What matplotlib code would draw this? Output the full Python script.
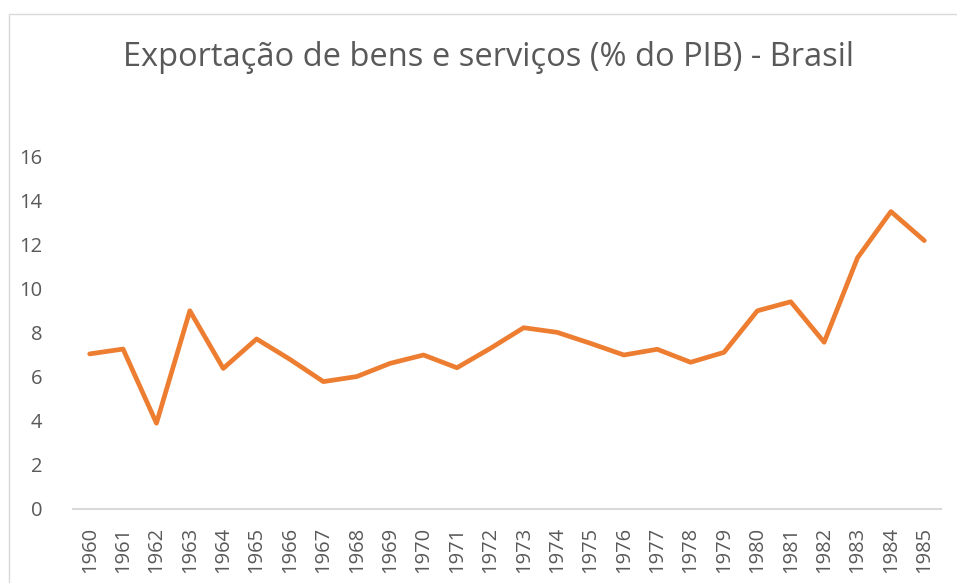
import matplotlib.pyplot as plt
from matplotlib.patches import Rectangle

# dados
anos = [str(a) for a in range(1960, 1986)]
exportacao = [7.05, 7.27, 3.9, 9.01, 6.39, 7.73, 6.8, 5.79, 6.02, 6.62,
              7.0, 6.42, 7.3, 8.24, 8.03, 7.53, 7.0, 7.26, 6.67, 7.12,
              9.01, 9.42, 7.58, 11.42, 13.52, 12.2]
y_ticks = [0, 2, 4, 6, 8, 10, 12, 14, 16]

W, H = 957, 583
fig = plt.figure(figsize=(W / 100, H / 100), dpi=100)
plt.rcParams['font.family'] = ['Open Sans', 'DejaVu Sans']

# borda da área do gráfico
fig.patches.append(Rectangle((9 / W, -0.1), 1.2, 1 - 14 / H + 0.1,
                             transform=fig.transFigure, fill=False,
                             edgecolor='#D9D9D9', linewidth=1))

ax = fig.add_axes([73 / W, 1 - 509 / H, (941 - 73) / W, (509 - 157) / H])
x = range(len(anos))
ax.plot(x, exportacao, color='#ED7D31', linewidth=3.4,
        solid_capstyle='round', solid_joinstyle='round', clip_on=False)

ax.set_xlim(-0.5, len(anos) - 0.5)
ax.set_ylim(0, 16)
ax.set_yticks(y_ticks)
ax.set_xticks(list(x))
ax.set_xticklabels(anos, rotation=90)

for s in ['top', 'right', 'left']:
    ax.spines[s].set_visible(False)
ax.spines['bottom'].set_color('#D9D9D9')
ax.spines['bottom'].set_linewidth(1.5)
ax.tick_params(axis='y', length=0, pad=22, labelsize=14.5, labelcolor='#595959')
ax.tick_params(axis='x', length=0, pad=13, labelsize=14.5, labelcolor='#595959')

fig.text(488 / W, 1 - 58 / H, 'Exportação de bens e serviços (% do PIB) - Brasil',
         ha='center', va='center', fontsize=23.5, color='#595959')

fig.savefig('out.png', dpi=100)
